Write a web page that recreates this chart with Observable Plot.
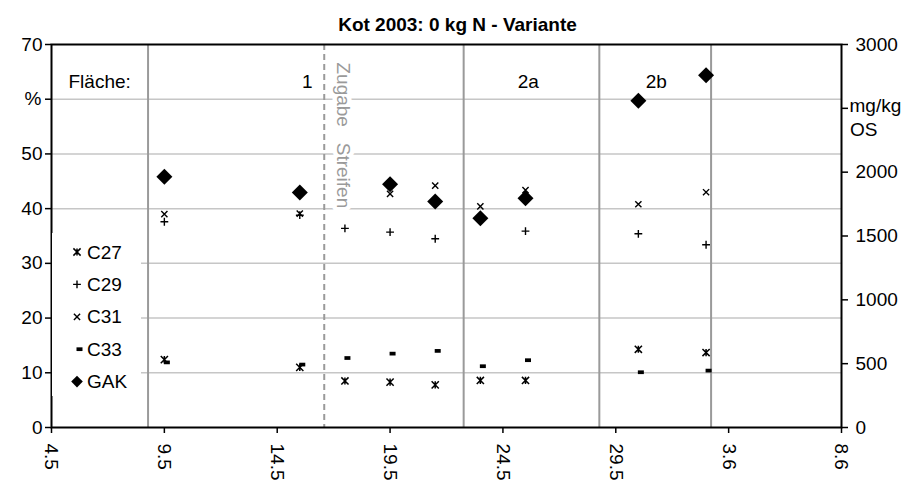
<!DOCTYPE html>
<html>
<head>
<meta charset="utf-8">
<script src="https://cdn.jsdelivr.net/npm/d3@7"></script>
<script src="https://cdn.jsdelivr.net/npm/@observablehq/plot@0.6"></script>
<style>
  body { margin: 0; background: #fff; font-family: "Liberation Sans", Arial, sans-serif; }
  #chart { position: relative; width: 908px; height: 484px; }
  #legend { position: absolute; left: 52px; top: 233px; width: 89px; height: 163px; background: #fff; }
</style>
</head>
<body>
<div id="chart"></div>
<script>
// Sampling dates (2003) and measured values
const sampleDates = ["2003-05-09", "2003-05-15", "2003-05-17", "2003-05-19", "2003-05-21",
                     "2003-05-23", "2003-05-25", "2003-05-30", "2003-06-02"];
const c27 = [12.4, 11.0, 8.5, 8.3, 7.8, 8.6, 8.6, 14.3, 13.7];          // %
const c29 = [37.6, 38.8, 36.4, 35.7, 34.5, null, 35.9, 35.4, 33.4];     // %
const c31 = [39.0, 39.1, 44.4, 42.7, 44.2, 40.4, 43.4, 40.8, 43.0];     // %
const c33 = [11.9, 11.5, 12.7, 13.5, 14.0, 11.2, 12.3, 10.1, 10.4];     // %
const gak = [1965, 1840, null, 1905, 1770, 1640, 1795, 2560, 2760];     // mg/kg OS

// Axes
const xTickDates = ["2003-05-04", "2003-05-09", "2003-05-14", "2003-05-19", "2003-05-24",
                    "2003-05-29", "2003-06-03", "2003-06-08"];
const yLeftTicks = [0, 10, 20, 30, 40, 50, 60, 70];
const yRightTicks = [0, 500, 1000, 1500, 2000, 2500, 3000];
const gridValues = [10, 20, 30, 40, 50, 60];

// Plot areas (Fläche) and the strip application
const sectionBounds = ["2003-05-08T06:40Z", "2003-05-22T06:15Z", "2003-05-28T06:30Z", "2003-06-02T05:20Z"];
const stripDate = ["2003-05-16T02:00Z"];
const sectionNames = ["1", "2a", "2b"];
const sectionLabelDates = ["2003-05-15T08:00Z", "2003-05-25T03:00Z", "2003-05-30T19:00Z"];
const stripLabel = "Zugabe\u00a0\u00a0 Streifen";
const stripLabelDate = ["2003-05-17T06:00Z"];

const legendNames = ["C27", "C29", "C31", "C33", "GAK"];
const title = "Kot 2003: 0 kg N - Variante";

const FONT = "'Liberation Sans', Arial, sans-serif";
const toLeft = v => v * 70 / 3000;
const parse = s => new Date(s.length === 10 ? s + "T00:00Z" : s);

const rows = sampleDates.map((d, i) => ({
  date: parse(d), c27: c27[i], c29: c29[i], c31: c31[i], c33: c33[i],
  gak: gak[i] == null ? null : toLeft(gak[i])
}));

// Marker shapes (size = π r², so s is the radius in px)
const rad = size => Math.sqrt(size / Math.PI);
const star = {draw(ctx, size) { const s = rad(size);
  ctx.moveTo(-s, -s); ctx.lineTo(s, s); ctx.moveTo(-s, s); ctx.lineTo(s, -s);
  ctx.moveTo(0, -s); ctx.lineTo(0, s); }};
const plus = {draw(ctx, size) { const s = rad(size);
  ctx.moveTo(-s, 0); ctx.lineTo(s, 0); ctx.moveTo(0, -s); ctx.lineTo(0, s); }};
const times = {draw(ctx, size) { const s = rad(size);
  ctx.moveTo(-s, -s); ctx.lineTo(s, s); ctx.moveTo(-s, s); ctx.lineTo(s, -s); }};
const bar = {draw(ctx, size) { const s = rad(size);
  ctx.rect(-s, -s * 0.62, 2 * s, 1.24 * s); }};
const diamond = {draw(ctx, size) { const s = rad(size);
  ctx.moveTo(0, -s); ctx.lineTo(s, 0); ctx.lineTo(0, s); ctx.lineTo(-s, 0); ctx.closePath(); }};

const fmtDay = d => `${d.getUTCDate()}.${d.getUTCMonth() + 1}`;

const svg = Plot.plot({
  width: 908,
  height: 484,
  marginLeft: 51,
  marginRight: 67,
  marginTop: 44,
  marginBottom: 57,
  style: {fontFamily: FONT, fontSize: "19px", color: "black", background: "white", overflow: "visible"},
  x: {type: "utc", domain: [parse(xTickDates[0]), parse(xTickDates[xTickDates.length - 1])]},
  y: {domain: [0, 70]},
  marks: [
    Plot.ruleY(gridValues, {stroke: "#c6c6c6", strokeWidth: 1.5}),
    Plot.ruleX(sectionBounds.map(parse), {stroke: "#9a9a9a", strokeWidth: 2}),
    Plot.ruleX(stripDate.map(parse), {stroke: "#9a9a9a", strokeWidth: 2, strokeDasharray: "6,4"}),
    Plot.dot(rows, {x: "date", y: "c27", symbol: star, r: 3.6, fill: "none", stroke: "black", strokeWidth: 1.5}),
    Plot.dot(rows, {x: "date", y: "c29", symbol: plus, r: 3.9, fill: "none", stroke: "black", strokeWidth: 1.4}),
    Plot.dot(rows, {x: "date", y: "c31", symbol: times, r: 3.1, fill: "none", stroke: "black", strokeWidth: 1.4}),
    Plot.dot(rows, {x: "date", y: "c33", symbol: bar, r: 3, dx: 2.5, fill: "black", stroke: "none"}),
    Plot.dot(rows, {x: "date", y: "gak", symbol: diamond, r: 8, fill: "black", stroke: "none"}),
    Plot.text([stripLabel], {x: stripLabelDate.map(parse), frameAnchor: "top", dy: 18, rotate: 90,
      textAnchor: "start", text: d => d, fill: "#9a9a9a", stroke: "white", strokeWidth: 9,
      paintOrder: "stroke", strokeLinejoin: "round"}),
    Plot.text([title], {frameAnchor: "top", dx: 11, dy: -27, text: d => d, fontWeight: "bold", fontSize: 19}),
    Plot.text(["Fläche:"], {frameAnchor: "top-left", dx: 17, dy: 30, textAnchor: "start", text: d => d}),
    Plot.text(sectionNames, {x: sectionLabelDates.map(parse), frameAnchor: "top", dy: 30, text: d => d}),
    Plot.text(["%"], {y: [60], frameAnchor: "left", dx: -27, text: d => d}),
    Plot.text(["mg/kg"], {y: [toLeft(2500)], frameAnchor: "right", dx: 8, dy: -2, textAnchor: "start", text: d => d}),
    Plot.text(["OS"], {y: [toLeft(2500)], frameAnchor: "right", dx: 36, dy: 22, text: d => d}),
    Plot.axisY({ticks: yLeftTicks, tickSize: 6, tickPadding: 3, strokeWidth: 1.5, label: null,
      tickFormat: d => d === 60 ? "" : String(d)}),
    Plot.axisY({anchor: "right", ticks: yRightTicks.map(toLeft), tickSize: 6, tickPadding: 8, strokeWidth: 1.5,
      label: null, tickFormat: d => { const v = Math.round(d * 3000 / 70); return v === 2500 ? "" : String(v); }}),
    Plot.axisX({ticks: xTickDates.map(parse), tickFormat: fmtDay, tickRotate: 90, tickSize: 6, tickPadding: 10,
      strokeWidth: 1.5, label: null}),
    Plot.frame({stroke: "black", strokeWidth: 2})
  ]
});

const chart = document.getElementById("chart");
chart.appendChild(svg);

// Legend box (white, sits over the grid lines)
const legendSymbols = [
  {type: star, r: 3.6, fill: "none", stroke: "black", sw: 1.5, dx: 0},
  {type: plus, r: 3.9, fill: "none", stroke: "black", sw: 1.4, dx: 0},
  {type: times, r: 3.1, fill: "none", stroke: "black", sw: 1.4, dx: 0},
  {type: bar, r: 3, fill: "black", stroke: "none", sw: 0, dx: 2.5},
  {type: diamond, r: 5.8, fill: "black", stroke: "none", sw: 0, dx: 0}
];
const legend = d3.select(chart).append("div").attr("id", "legend")
  .append("svg").attr("width", 89).attr("height", 163)
  .style("font-family", FONT).style("font-size", "19px");
legendNames.forEach((name, i) => {
  const sym = legendSymbols[i];
  const y = 19 + i * 32.4;
  legend.append("path")
    .attr("transform", `translate(${25 + sym.dx},${y})`)
    .attr("d", d3.symbol(sym.type, Math.PI * sym.r * sym.r)())
    .attr("fill", sym.fill).attr("stroke", sym.stroke).attr("stroke-width", sym.sw);
  legend.append("text").attr("x", 35).attr("y", y).attr("dy", "0.35em").text(name);
});
</script>
</body>
</html>
